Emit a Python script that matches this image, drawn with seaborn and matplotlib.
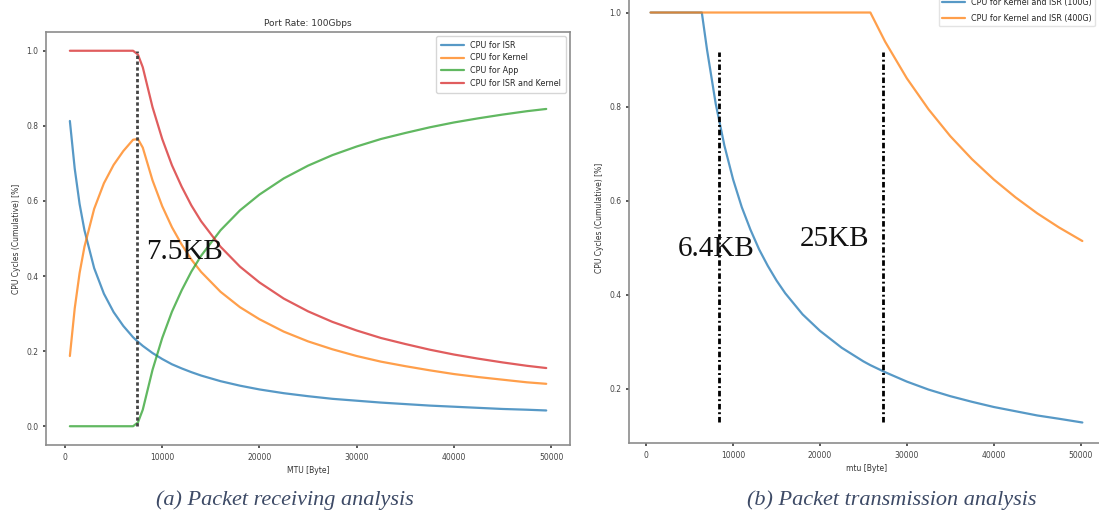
import matplotlib
matplotlib.use("Agg")
import matplotlib.pyplot as plt
import seaborn as sns

# --- (a) receiving: values ---
mtu_rx = [500, 1000, 1500, 2000, 3000, 4000, 5000, 6000, 7000, 7500, 8000, 9000,
          10000, 11000, 12000, 13000, 14000, 16000, 18000, 20000, 22500, 25000,
          27500, 30000, 32500, 35000, 37500, 40000, 42500, 45000, 47500, 49500]
cpu_isr = [0.813, 0.686, 0.592, 0.522, 0.421, 0.353, 0.304, 0.267, 0.237, 0.225, 0.214, 0.195,
           0.179, 0.165, 0.154, 0.144, 0.135, 0.120, 0.108, 0.098, 0.088, 0.080,
           0.073, 0.068, 0.063, 0.059, 0.055, 0.052, 0.049, 0.046, 0.044, 0.042]
cpu_kernel = [0.187, 0.314, 0.408, 0.478, 0.579, 0.647, 0.696, 0.733, 0.763, 0.765, 0.742, 0.655,
              0.586, 0.530, 0.484, 0.444, 0.411, 0.358, 0.317, 0.285, 0.252, 0.226,
              0.205, 0.187, 0.172, 0.160, 0.149, 0.139, 0.131, 0.124, 0.117, 0.113]
cpu_app = [0.0, 0.0, 0.0, 0.0, 0.0, 0.0, 0.0, 0.0, 0.0, 0.01, 0.044, 0.150,
           0.235, 0.305, 0.362, 0.412, 0.454, 0.522, 0.575, 0.617, 0.660, 0.694,
           0.722, 0.745, 0.765, 0.781, 0.796, 0.809, 0.820, 0.830, 0.839, 0.845]
cpu_isr_kernel = [1.0, 1.0, 1.0, 1.0, 1.0, 1.0, 1.0, 1.0, 1.0, 0.99, 0.956, 0.850,
                  0.765, 0.695, 0.638, 0.588, 0.546, 0.478, 0.425, 0.383, 0.340, 0.306,
                  0.278, 0.255, 0.235, 0.219, 0.204, 0.191, 0.180, 0.170, 0.161, 0.155]
rx_labels = ["CPU for ISR", "CPU for Kernel", "CPU for App", "CPU for ISR and Kernel"]

# --- (b) transmission: values ---
mtu_tx = [500, 1000, 2000, 3000, 4000, 5000, 6000, 6400, 7000, 8000, 9000, 10000,
          11000, 12000, 13000, 14000, 15000, 16000, 18000, 20000, 22500, 25000, 25800,
          27500, 30000, 32500, 35000, 37500, 40000, 42500, 45000, 47500, 50200]
cpu_100g = [1.0, 1.0, 1.0, 1.0, 1.0, 1.0, 1.0, 1.0, 0.921, 0.806, 0.717, 0.645,
            0.586, 0.538, 0.496, 0.461, 0.430, 0.403, 0.358, 0.323, 0.287, 0.258, 0.250,
            0.235, 0.215, 0.198, 0.184, 0.172, 0.161, 0.152, 0.143, 0.136, 0.128]
cpu_400g = [1.0, 1.0, 1.0, 1.0, 1.0, 1.0, 1.0, 1.0, 1.0, 1.0, 1.0, 1.0,
            1.0, 1.0, 1.0, 1.0, 1.0, 1.0, 1.0, 1.0, 1.0, 1.0, 1.0,
            0.938, 0.860, 0.794, 0.737, 0.688, 0.645, 0.607, 0.573, 0.543, 0.514]
tx_labels = ["CPU for Kernel and ISR (100G)", "CPU for Kernel and ISR (400G)"]

# annotation markers
rx_mark_x = [7420]
rx_mark_text = ["7.5KB"]
tx_mark_x = [8430, 27200]
tx_mark_text = ["6.4KB", "25KB"]

colors = ["#1f77b4", "#ff7f0e", "#2ca02c", "#d62728"]
frame = "#8c8c8c"

sns.set_theme(style="white")
plt.rcParams['font.family'] = ['DejaVu Sans']

fig = plt.figure(figsize=(10.99, 5.15), dpi=100)
ax1 = fig.add_axes([0.0419, 0.1359, 0.4768, 0.802])
ax2 = fig.add_axes([0.5723, 0.1398, 0.4322, 0.8757])

# left panel
for vals, lab, c in zip([cpu_isr, cpu_kernel, cpu_app, cpu_isr_kernel], rx_labels, colors):
    sns.lineplot(x=mtu_rx, y=vals, ax=ax1, color=c, label=lab, linewidth=1.6, alpha=0.75)
ax1.vlines(rx_mark_x, 0.0, 1.0, colors="#444444", linestyles=(0, (1.2, 0.9)), linewidth=2)
ax1.text(8300, 0.463, rx_mark_text[0], fontsize=21, family="Liberation Serif",
         va="center", ha="left", color="#111111")
ax1.set_title("Port Rate: 100Gbps", fontsize=6.5, color="#333333", pad=4)
ax1.set_xlabel("MTU [Byte]", fontsize=5.5, color="#333333", labelpad=3)
ax1.set_ylabel("CPU Cycles (Cumulative) [%]", fontsize=5.5, color="#333333", labelpad=4)
ax1.set_xticks([0, 10000, 20000, 30000, 40000, 50000])
ax1.set_yticks([0.0, 0.2, 0.4, 0.6, 0.8, 1.0])
ax1.tick_params(labelsize=5.5, colors="#444444", length=2, left=True, bottom=True)
for s in ax1.spines.values():
    s.set_color(frame)
    s.set_linewidth(1.2)
leg1 = ax1.legend(loc="upper right", fontsize=5.8, frameon=True, handlelength=2.8,
                  borderpad=0.6, labelspacing=0.45)
leg1.get_frame().set_edgecolor("#cccccc")

# right panel
for vals, lab, c in zip([cpu_100g, cpu_400g], tx_labels, colors[:2]):
    sns.lineplot(x=mtu_tx, y=vals, ax=ax2, color=c, label=lab, linewidth=1.6, alpha=0.75)
ax2.vlines(tx_mark_x, 0.13, 0.917, colors="black", linestyles=(0, (2.0, 1.0, 0.7, 1.0)),
           linewidth=2)
ax2.text(3680, 0.498, tx_mark_text[0], fontsize=21, family="Liberation Serif",
         va="center", ha="left", color="#111111")
ax2.text(17700, 0.519, tx_mark_text[1], fontsize=21, family="Liberation Serif",
         va="center", ha="left", color="#111111")
ax2.set_xlabel("mtu [Byte]", fontsize=5.5, color="#333333", labelpad=3)
ax2.set_ylabel("CPU Cycles (Cumulative) [%]", fontsize=5.5, color="#333333", labelpad=4)
ax2.set_xticks([0, 10000, 20000, 30000, 40000, 50000])
ax2.set_yticks([0.2, 0.4, 0.6, 0.8, 1.0])
ax2.tick_params(labelsize=5.5, colors="#444444", length=2, left=True, bottom=True)
for s in ax2.spines.values():
    s.set_color(frame)
    s.set_linewidth(1.2)
leg2 = ax2.legend(loc="upper right", bbox_to_anchor=(1.0, 1.018),
                  bbox_transform=fig.transFigure, fontsize=5.8, frameon=True,
                  handlelength=2.8, labelspacing=0.9)
leg2.get_frame().set_edgecolor("#dddddd")

# captions
cap = dict(fontsize=16, family="Liberation Serif", style="italic", color="#3d4a66",
           ha="center", va="center")
fig.text(0.259, 0.029, "(a) Packet receiving analysis", **cap)
fig.text(0.811, 0.029, "(b) Packet transmission analysis", **cap)

fig.savefig("out.png", dpi=100)
